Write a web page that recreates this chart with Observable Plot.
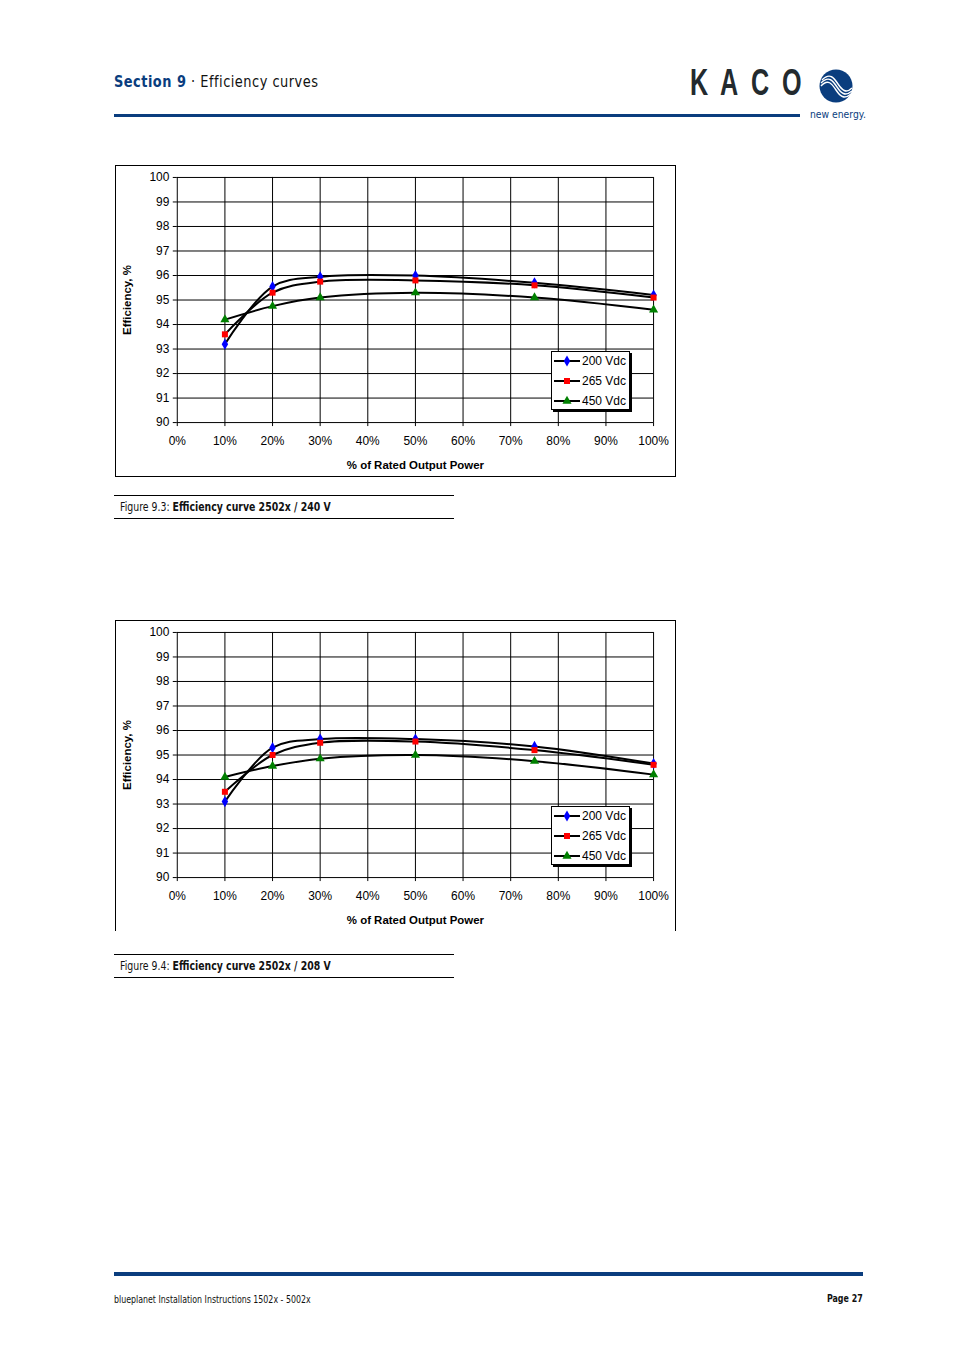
<!DOCTYPE html>
<html>
<head>
<meta charset="utf-8">
<script src="https://cdn.jsdelivr.net/npm/d3@7"></script>
<script src="https://cdn.jsdelivr.net/npm/@observablehq/plot@0.6"></script>
<style>
  html, body { margin: 0; padding: 0; background: #fff; }
  #page { position: relative; width: 954px; height: 1350px; overflow: hidden; background: #fff; }
  .abs { position: absolute; white-space: nowrap; }
  .sx { display: inline-block; transform-origin: left center; }
  .chartbox { position: absolute; box-sizing: border-box; border: 1px solid #000; }
  .chartbox.open { border-bottom: none; }
  .chartbox svg { position: absolute; left: -1px; top: -1px; overflow: visible; }
  .caption { position: absolute; left: 114px; width: 340px; border-top: 1px solid #000; border-bottom: 1px solid #000; box-sizing: border-box; height: 24px; font-size: 13px; line-height: 22px; padding-left: 6px; color: #111; white-space: nowrap; font-family: 'DejaVu Sans', sans-serif; }
  .legend { position: absolute; background: #fff; border: 1px solid #000; box-shadow: 2px 2px 0 #000; }
  .kaco { position: absolute; top: 62px; font-family: "Liberation Sans", sans-serif; font-weight: bold; font-size: 37px; color: #232a2e; transform: scaleX(0.68); transform-origin: left top; }
</style>
</head>
<body>
<div id="page">
  <!-- header -->
  <div class="abs" style="left:114px; top:72px; font-family:'DejaVu Sans', sans-serif; font-size:16px; letter-spacing:0.6px; color:#0a3d7e;"><span class="sx" style="transform:scaleX(0.81);"><b>Section 9</b> <span style="color:#111;">· Efficiency curves</span></span></div>
  <div class="abs" style="left:114px; top:114px; width:686px; height:3px; background:#0a3d7e;"></div>
  <div class="kaco" style="left:690px;">K</div>
  <div class="kaco" style="left:720px;">A</div>
  <div class="kaco" style="left:751px;">C</div>
  <div class="kaco" style="left:782px;">O</div>
  <svg class="abs" style="left:818px; top:68px;" width="36" height="36" viewBox="0 0 36 36">
    <circle cx="18" cy="18" r="16.5" fill="#0a3d7e"/>
    <g fill="none" stroke="#fff" stroke-width="1.4">
      <path d="M4 12 C 12 4, 16 10, 20 16 S 28 26, 34 20"/>
      <path d="M3 15 C 11 7, 15 13, 19 19 S 27 29, 34 23"/>
      <path d="M3 18 C 10 10, 14 16, 18 22 S 26 32, 33 26"/>
    </g>
  </svg>
  <div class="abs" style="left:810px; top:108px; font-family:'DejaVu Sans', sans-serif; font-size:10.5px; color:#0a3d7e;"><span class="sx" style="transform:scaleX(0.88);">new energy.</span></div>

  <!-- chart 1 -->
  <div id="chart1" class="chartbox" style="left:115px; top:165px; width:561px; height:312px;"></div>
  <div class="caption" style="top:495px;"><span class="sx" style="transform:scaleX(0.72);">Figure 9.3: <b>Efficiency curve 2502x / 240 V</b></span></div>

  <!-- chart 2 -->
  <div id="chart2" class="chartbox open" style="left:115px; top:620px; width:561px; height:311px;"></div>
  <div class="caption" style="top:954px;"><span class="sx" style="transform:scaleX(0.72);">Figure 9.4: <b>Efficiency curve 2502x / 208 V</b></span></div>

  <!-- footer -->
  <div class="abs" style="left:114px; top:1272px; width:749px; height:4px; background:#0a3d7e;"></div>
  <div class="abs" style="left:114px; top:1293px; font-family:'DejaVu Sans', sans-serif; font-size:10.5px; color:#111;"><span class="sx" style="transform:scaleX(0.75);">blueplanet Installation Instructions 1502x - 5002x</span></div>
  <div class="abs" style="right:91px; top:1292px; font-family:'DejaVu Sans', sans-serif; font-size:11px; font-weight:bold; color:#111;"><span class="sx" style="transform:scaleX(0.72); transform-origin:right center;">Page 27</span></div>
</div>

<script>
// ---- data ----
const loadPct = [10, 20, 30, 50, 75, 100];
const seriesNames = ["200 Vdc", "265 Vdc", "450 Vdc"];
const seriesColors = ["#0000ff", "#ff0000", "#008000"];
const seriesSymbols = ["diamond", "square", "triangle"];

// Figure 9.3: 2502x / 240 V
const eff240_200 = [93.2, 95.55, 95.95, 96.0, 95.7, 95.2];
const eff240_265 = [93.6, 95.3, 95.75, 95.8, 95.6, 95.1];
const eff240_450 = [94.2, 94.75, 95.1, 95.3, 95.1, 94.6];

// Figure 9.4: 2502x / 208 V
const eff208_200 = [93.1, 95.3, 95.65, 95.65, 95.35, 94.65];
const eff208_265 = [93.5, 95.0, 95.5, 95.55, 95.2, 94.6];
const eff208_450 = [94.1, 94.55, 94.85, 95.0, 94.75, 94.2];

const xTicks = [0, 10, 20, 30, 40, 50, 60, 70, 80, 90, 100];
const yTicks = [90, 91, 92, 93, 94, 95, 96, 97, 98, 99, 100];
const xTitle = "% of Rated Output Power";
const yTitle = "Efficiency, %";

function toRows(valueArrays) {
  const rows = [];
  valueArrays.forEach((vals, i) => {
    vals.forEach((v, j) => rows.push({series: seriesNames[i], load: loadPct[j], eff: v}));
  });
  return rows;
}

function makeChart(rows) {
  return Plot.plot({
    width: 561,
    height: 311,
    marginLeft: 62,
    marginRight: 21,
    marginTop: 12,
    marginBottom: 53,
    style: {fontFamily: "'Liberation Sans', Arial, sans-serif", fontSize: "12px", color: "#000", background: "transparent"},
    x: {domain: [0, 100]},
    y: {domain: [90, 100]},
    color: {domain: seriesNames, range: seriesColors},
    symbol: {domain: seriesNames, range: seriesSymbols},
    marks: [
      Plot.gridX({ticks: xTicks, stroke: "#000", strokeOpacity: 1, strokeWidth: 1}),
      Plot.gridY({ticks: yTicks, stroke: "#000", strokeOpacity: 1, strokeWidth: 1}),
      Plot.axisX({ticks: xTicks, tickFormat: d => d + "%", tickSize: 4, tickPadding: 10, fontSize: 12, label: null, stroke: "#000", fill: "#000"}),
      Plot.axisY({ticks: yTicks, tickSize: 4, tickPadding: 4, fontSize: 12, label: null, stroke: "#000", fill: "#000"}),
      Plot.line(rows, {x: "load", y: "eff", z: "series", stroke: "#000", strokeWidth: 2, curve: "catmull-rom"}),
      Plot.dot(rows, {x: "load", y: "eff", symbol: "series", fill: "series", stroke: "none", r: 3.4}),
      Plot.text([xTitle], {frameAnchor: "bottom", lineAnchor: "middle", dy: 43, fontWeight: "bold", fontSize: 11.5, fill: "#000"}),
      Plot.text([yTitle], {frameAnchor: "left", textAnchor: "middle", lineAnchor: "middle", dx: -50, rotate: -90, fontWeight: "bold", fontSize: 11.5, fill: "#000"})
    ]
  });
}

function makeLegend(container, left, top) {
  const div = document.createElement("div");
  div.className = "legend";
  div.style.left = left + "px";
  div.style.top = top + "px";
  div.style.width = "77px";
  div.style.height = "57px";
  const svg = d3.create("svg").attr("width", 77).attr("height", 57).style("display", "block");
  seriesNames.forEach((name, i) => {
    const cy = 10 + i * 20;
    svg.append("line").attr("x1", 3).attr("x2", 29).attr("y1", cy).attr("y2", cy).attr("stroke", "#000").attr("stroke-width", 2);
    const sym = [d3.symbolDiamond, d3.symbolSquare, d3.symbolTriangle][i];
    svg.append("path").attr("d", d3.symbol(sym, 36)()).attr("transform", `translate(16,${cy})`).attr("fill", seriesColors[i]);
    svg.append("text").attr("x", 31).attr("y", cy).attr("dy", "0.35em").attr("font-size", 12)
      .attr("font-family", "'Liberation Sans', Arial, sans-serif").text(name);
  });
  div.appendChild(svg.node());
  container.appendChild(div);
}

const c1 = document.getElementById("chart1");
c1.appendChild(makeChart(toRows([eff240_200, eff240_265, eff240_450])));
makeLegend(c1, 435, 185);

const c2 = document.getElementById("chart2");
c2.appendChild(makeChart(toRows([eff208_200, eff208_265, eff208_450])));
makeLegend(c2, 435, 185);
</script>
</body>
</html>
